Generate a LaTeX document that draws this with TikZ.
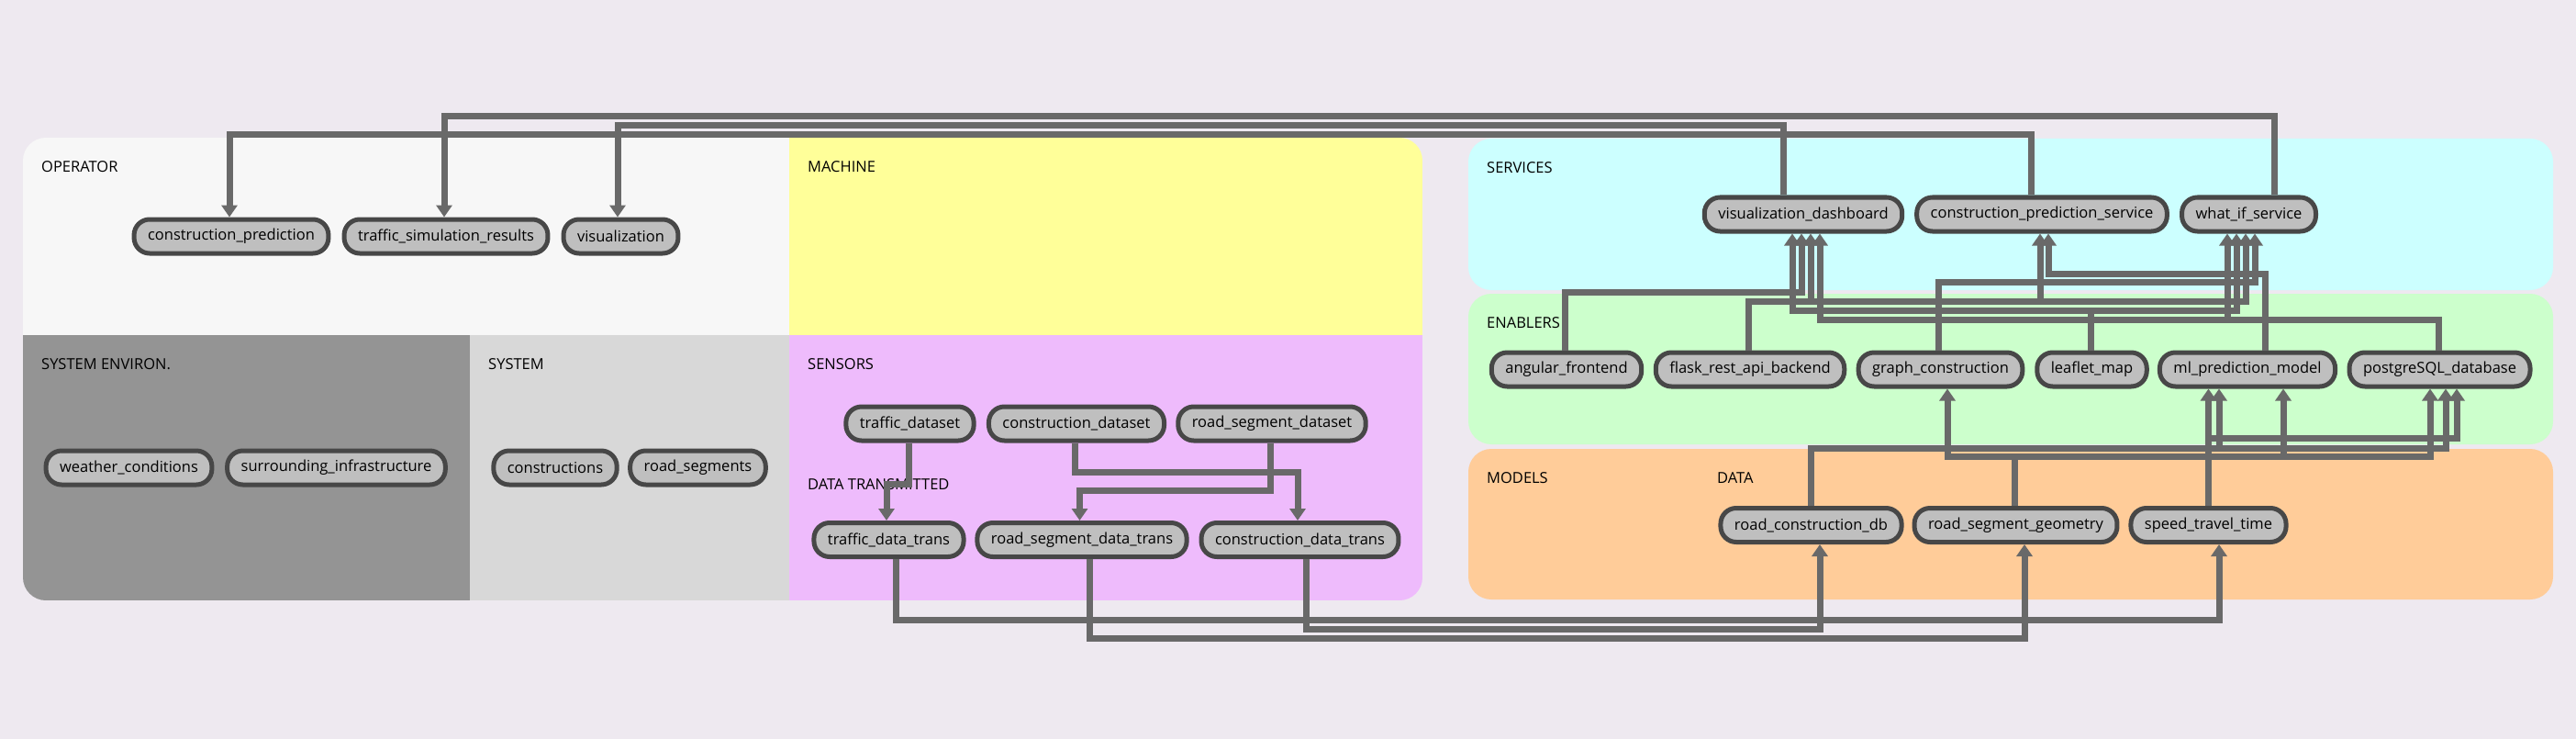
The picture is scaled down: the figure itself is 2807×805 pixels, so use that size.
\documentclass[tikz,border=0pt]{standalone}
\usepackage{fontspec}
\setmainfont{Open Sans}
\usetikzlibrary{arrows.meta}
\definecolor{bg}{HTML}{EEE9F0}
\definecolor{opcol}{HTML}{F7F7F7}
\definecolor{maccol}{HTML}{FFFF99}
\definecolor{envcol}{HTML}{949494}
\definecolor{syscol}{HTML}{D8D8D8}
\definecolor{sencol}{HTML}{EEBBFC}
\definecolor{srvcol}{HTML}{CCFFFF}
\definecolor{enacol}{HTML}{CCFFCC}
\definecolor{modcol}{HTML}{FFCC99}
\definecolor{nodefill}{HTML}{BFBFBF}
\definecolor{nodeborder}{HTML}{474747}
\definecolor{conncolor}{HTML}{696969}
\newcommand{\dfont}{\fontsize{16.5}{20}\selectfont}
\tikzset{
  box/.style={draw=nodeborder, fill=nodefill, line width=5pt, rounded corners=17pt,
    minimum height=37pt, inner xsep=15pt, inner ysep=0pt, font=\dfont, text=black, anchor=center},
  conn/.style={draw=conncolor, line width=7pt, -{Triangle[width=17pt,length=13pt]}},
  lbl/.style={anchor=west, font=\dfont, inner sep=0pt, text=black},
}
\begin{document}
\begin{tikzpicture}[x=1pt,y=-1pt]
\useasboundingbox (0,0) rectangle (2807,805);
\fill[bg] (0,0) rectangle (2807,805);
% left group
\begin{scope}
  \clip[rounded corners=25pt] (25,150) rectangle (1550,654);
  \fill[opcol] (25,150) rectangle (860,365);
  \fill[maccol] (860,150) rectangle (1550,365);
  \fill[envcol] (25,365) rectangle (511.5,654);
  \fill[syscol] (511.5,365) rectangle (860,654);
  \fill[sencol] (860,365) rectangle (1550,654);
\end{scope}
% right group
\fill[srvcol, rounded corners=25pt] (1600,151) rectangle (2782,316);
\fill[enacol, rounded corners=25pt] (1600,320) rectangle (2782,484);
\fill[modcol, rounded corners=25pt] (1600,489) rectangle (2782,653);
% labels
\node[lbl] (lop) at (45,182) {OPERATOR};
\node[lbl] (lma) at (880,182) {MACHINE};
\node[lbl] (lse) at (45,397) {SYSTEM ENVIRON.};
\node[lbl] (lsy) at (532,397) {SYSTEM};
\node[lbl] (lsn) at (880,397) {SENSORS};
\node[lbl] (ldt) at (880,528) {DATA TRANSMITTED};
\node[lbl] (lsv) at (1620,183) {SERVICES};
\node[lbl] (len) at (1620,352) {ENABLERS};
\node[lbl] (lmo) at (1620,521) {MODELS};
\node[lbl] (lda) at (1871,521) {DATA};
% nodes
\node[box] (cp) at (252,257.5) {construction\_prediction};
\node[box] (tsr) at (486,257.5) {traffic\_simulation\_results};
\node[box] (vis) at (676.5,257.5) {visualization};
\node[box] (wc) at (140.5,509.5) {weather\_conditions};
\node[box] (si) at (366.5,509.5) {surrounding\_infrastructure};
\node[box] (con) at (605,509.5) {constructions};
\node[box] (rs) at (760.5,509.5) {road\_segments};
\node[box] (td) at (991.5,461.5) {traffic\_dataset};
\node[box] (cd) at (1173,461.5) {construction\_dataset};
\node[box] (rsd) at (1386,461.5) {road\_segment\_dataset};
\node[box] (tdt) at (968.5,588) {traffic\_data\_trans};
\node[box] (rsdt) at (1179,588) {road\_segment\_data\_trans};
\node[box] (cdt) at (1416.5,588) {construction\_data\_trans};
\node[box] (vd) at (1965,233.5) {visualization\_dashboard};
\node[box] (cps) at (2225,233.5) {construction\_prediction\_service};
\node[box] (wi) at (2450.5,233.5) {what\_if\_service};
\node[box] (af) at (1707,402.5) {angular\_frontend};
\node[box] (fl) at (1907,402.5) {flask\_rest\_api\_backend};
\node[box] (gc) at (2114.5,402.5) {graph\_construction};
\node[box] (lm) at (2279.5,402.5) {leaflet\_map};
\node[box] (ml) at (2449,402.5) {ml\_prediction\_model};
\node[box] (pg) at (2658.5,402.5) {postgreSQL\_database};
\node[box] (rcd) at (1973.5,572) {road\_construction\_db};
\node[box] (rsg) at (2196.5,572) {road\_segment\_geometry};
\node[box] (stt) at (2406.5,572) {speed\_travel\_time};
% services -> operator
\draw[conn] ([xshift=28pt]wi.north) |- (484,127) -- (484,0 |- tsr.north);
\draw[conn] ([xshift=-22pt]vd.north) |- (673,137) -- (673,0 |- vis.north);
\draw[conn] ([xshift=-12pt]cps.north) |- (250,147) -- (250,0 |- cp.north);
% sensors
\draw[conn] ([xshift=-1.5pt]td.south) |- (966,527) -- (966,0 |- tdt.north);
\draw[conn] ([xshift=-2pt]cd.south) |- (1414,514) -- (1414,0 |- cdt.north);
\draw[conn] ([xshift=-2pt]rsd.south) |- (1176.5,534) -- (1176.5,0 |- rsdt.north);
% data transmitted -> data
\draw[conn] ([xshift=7.5pt]tdt.south) |- (2418,675) -- (2418,0 |- stt.south);
\draw[conn] ([xshift=7pt]cdt.south) |- (1983,685) -- (1983,0 |- rcd.south);
\draw[conn] ([xshift=8pt]rsdt.south) |- (2206,695) -- (2206,0 |- rsg.south);
% data -> enablers
\draw[conn] (rcd.north) |- (2418,488) -- (2418,0 |- ml.south);
\draw[conn] (rcd.north) |- (2665,488) -- (2665,0 |- pg.south);
\draw[conn] ([xshift=-1pt]rsg.north) |- (2122,497) -- (2122,0 |- gc.south);
\draw[conn] ([xshift=-1pt]rsg.north) |- (2488,497) -- (2488,0 |- ml.south);
\draw[conn] ([xshift=-1pt]rsg.north) |- (2648,497) -- (2648,0 |- pg.south);
\draw[conn] (stt.north) -- (2406.5,0 |- ml.south);
\draw[conn] (stt.north) |- (2677,477) -- (2677,0 |- pg.south);
% enablers -> services
\draw[conn] ([xshift=-2pt]af.north) |- (1963,318) -- (1963,0 |- vd.south);
\draw[conn] ([xshift=-2pt]fl.north) |- (1973,328) -- (1973,0 |- vd.south);
\draw[conn] ([xshift=-2pt]fl.north) |- (2223,328) -- (2223,0 |- cps.south);
\draw[conn] ([xshift=-2pt]fl.north) |- (2447,328) -- (2447,0 |- wi.south);
\draw[conn] ([xshift=-2.5pt]gc.north) |- (2457,307) -- (2457,0 |- wi.south);
\draw[conn] ([xshift=-1.5pt]lm.north) |- (1953,338) -- (1953,0 |- vd.south);
\draw[conn] ([xshift=-1.5pt]lm.north) |- (2437,338) -- (2437,0 |- wi.south);
\draw[conn] ([xshift=19pt]ml.north) |- (2232,298) -- (2232,0 |- cps.south);
\draw[conn] ([xshift=-1.5pt]pg.north) |- (1983,348) -- (1983,0 |- vd.south);
\draw[conn] ([xshift=-1.5pt]pg.north) |- (2427,348) -- (2427,0 |- wi.south);
\end{tikzpicture}
\end{document}
